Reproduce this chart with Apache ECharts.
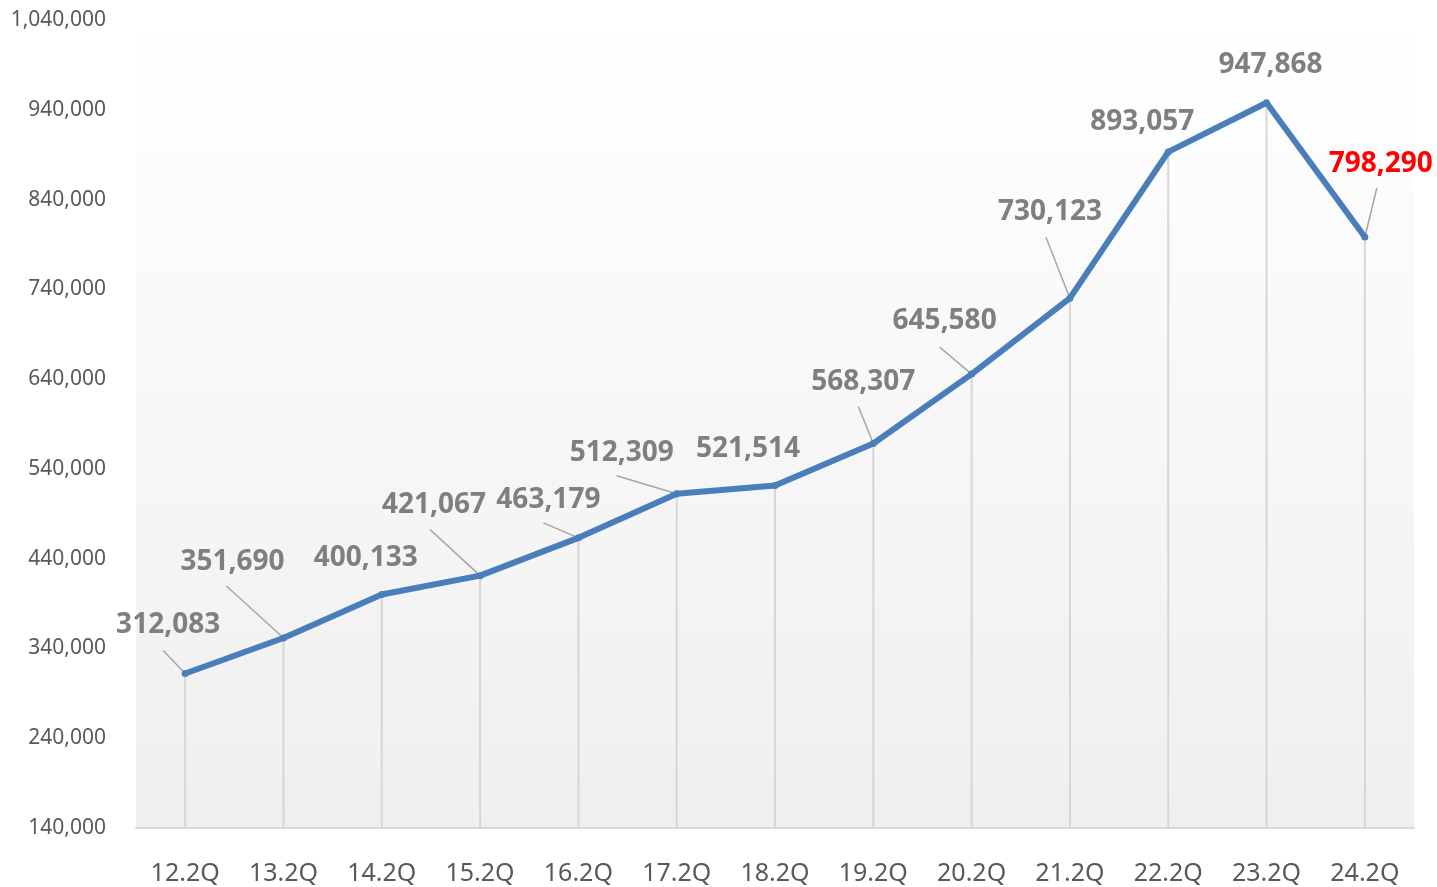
<!DOCTYPE html>
<html>
<head>
<meta charset="utf-8">
<script src="https://cdn.jsdelivr.net/npm/echarts@6/dist/echarts.min.js"></script>
<style>
  html, body { margin: 0; padding: 0; background: #fff; }
  #main { width: 1437px; height: 887px; }
</style>
</head>
<body>
<div id="main"></div>
<script>
// 분기별 값
const categories = ['12.2Q', '13.2Q', '14.2Q', '15.2Q', '16.2Q', '17.2Q', '18.2Q', '19.2Q', '20.2Q', '21.2Q', '22.2Q', '23.2Q', '24.2Q'];
const values = [312083, 351690, 400133, 421067, 463179, 512309, 521514, 568307, 645580, 730123, 893057, 947868, 798290];

// label placement (px offset from point) and leader line far end (px offset from point, null = none)
const labelOffsets = [[-17, -48], [-51, -76], [-16, -36], [-46, -71], [-30, -38], [-55, -41], [-27, -36], [-10, -61], [-27, -53], [-20, -86], [-26, -30], [4, -38], [16, -73]];
const leaderEnds = [[-22, -23], [-57, -52], null, [-50, -46], [-35, -15], [-60, -18], null, [-15, -37], [-32, -27], [-24, -61], null, null, [12, -49]];

const chart = echarts.init(document.getElementById('main'));

const lineData = values.map((v, i) => ({
    value: v,
    label: i === values.length - 1 ? { color: '#ff0000' } : {}
}));

const leaderData = values.map((v, i) => [i, v]).filter((d, i) => leaderEnds[i]);

chart.setOption({
    animation: false,
    grid: {
        left: 136,
        right: 23,
        top: 20,
        bottom: 59,
        show: true,
        borderWidth: 0,
        backgroundColor: new echarts.graphic.LinearGradient(0, 0, 0, 1, [
            { offset: 0, color: '#ffffff' },
            { offset: 1, color: '#efefef' }
        ])
    },
    xAxis: {
        type: 'category',
        data: categories,
        axisLine: { lineStyle: { color: '#d9d9d9', width: 2 } },
        axisTick: { show: false },
        axisLabel: {
            margin: 33,
            fontSize: 25,
            color: '#595959',
            fontFamily: 'Noto Sans'
        }
    },
    yAxis: {
        type: 'value',
        min: 140000,
        max: 1040000,
        interval: 100000,
        splitLine: { show: false },
        axisLine: { show: false },
        axisTick: { show: false },
        axisLabel: {
            margin: 30,
            fontSize: 21,
            color: '#595959',
            fontFamily: 'Noto Sans',
            padding: [4, 0, 0, 0],
            formatter: v => v.toLocaleString('en-US')
        }
    },
    series: [
        {
            type: 'bar',
            data: values,
            barWidth: 2,
            barGap: '-100%',
            itemStyle: { color: '#d6d6d6' },
            silent: true,
            z: 1
        },
        {
            type: 'custom',
            data: leaderData,
            silent: true,
            z: 2,
            renderItem: (params, api) => {
                const idx = api.value(0);
                const p = api.coord([idx, api.value(1)]);
                const end = leaderEnds[idx];
                return {
                    type: 'line',
                    shape: { x1: p[0], y1: p[1], x2: p[0] + end[0], y2: p[1] + end[1] },
                    style: { stroke: '#a6a6a6', lineWidth: 1.5 }
                };
            }
        },
        {
            type: 'line',
            data: lineData,
            symbol: 'circle',
            symbolSize: 7,
            itemStyle: { color: '#4a7ebb' },
            lineStyle: { color: '#4a7ebb', width: 6 },
            z: 3,
            label: {
                show: true,
                position: 'inside',
                fontSize: 28,
                fontWeight: 'bold',
                fontFamily: 'Noto Sans',
                color: '#7f7f7f',
                formatter: p => p.value.toLocaleString('en-US')
            },
            labelLayout: p => ({ dx: labelOffsets[p.dataIndex][0], dy: labelOffsets[p.dataIndex][1] })
        }
    ]
});
</script>
</body>
</html>
